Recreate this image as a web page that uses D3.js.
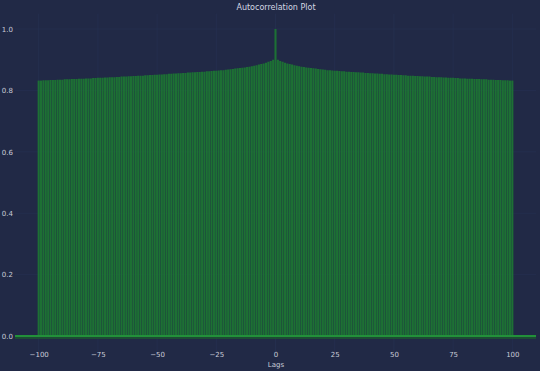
<!DOCTYPE html>
<html>
<head>
<meta charset="utf-8">
<script src="https://cdn.jsdelivr.net/npm/d3@7"></script>
<style>
html,body{margin:0;padding:0;background:#212946;}
svg{display:block;}
</style>
</head>
<body>
<svg id="chart" width="540" height="371"></svg>
<script>
// Autocorrelation values for lags 0..100 (symmetric for negative lags)
const acfPositive = [
  1.000,
  0.900,0.896,0.893,0.890,0.888,0.886,0.884,0.882,0.880,0.879,
  0.877,0.876,0.875,0.874,0.873,0.872,0.871,0.870,0.869,0.868,
  0.867,0.866,0.866,0.865,0.864,0.864,0.863,0.862,0.862,0.861,
  0.861,0.860,0.860,0.859,0.859,0.858,0.858,0.857,0.857,0.856,
  0.856,0.855,0.855,0.854,0.854,0.853,0.853,0.852,0.852,0.851,
  0.851,0.850,0.850,0.849,0.849,0.848,0.848,0.848,0.847,0.847,
  0.846,0.846,0.845,0.845,0.845,0.844,0.844,0.843,0.843,0.843,
  0.842,0.842,0.841,0.841,0.841,0.840,0.840,0.839,0.839,0.839,
  0.838,0.838,0.838,0.837,0.837,0.837,0.836,0.836,0.836,0.835,
  0.835,0.835,0.834,0.834,0.834,0.833,0.833,0.833,0.832,0.832
];
const xTicks = [-100,-75,-50,-25,0,25,50,75,100];
const yTicks = [0.0,0.2,0.4,0.6,0.8,1.0];
const title = "Autocorrelation Plot";
const xLabel = "Lags";

// Build lag/value table
const lags = d3.range(-100, 101);
const acf = lags.map(l => ({lag: l, value: acfPositive[Math.abs(l)]}));

const svg = d3.select("#chart");
const x = d3.scaleLinear().domain([-110, 110]).range([15, 536]);
const y = d3.scaleLinear().domain([-0.05, 1.05]).range([351.35, 13.65]);

const font = "DejaVu Sans, sans-serif";

// grid (very faint)
const grid = svg.append("g");
grid.selectAll(".vg").data(xTicks).enter().append("line")
  .attr("x1", d => x(d)).attr("x2", d => x(d))
  .attr("y1", y(1.05)).attr("y2", y(-0.05))
  .attr("stroke", "#2A3459").attr("stroke-width", 0.7).attr("stroke-opacity", 0.6);
grid.selectAll(".hg").data(yTicks).enter().append("line")
  .attr("x1", x(-110)).attr("x2", x(110))
  .attr("y1", d => y(d)).attr("y2", d => y(d))
  .attr("stroke", "#2A3459").attr("stroke-width", 0.7).attr("stroke-opacity", 0.6);

// bars (vlines)
svg.append("g").selectAll("line").data(acf).enter().append("line")
  .attr("x1", d => x(d.lag)).attr("x2", d => x(d.lag))
  .attr("y1", y(0)).attr("y2", d => y(d.value))
  .attr("stroke", "#1d7a32").attr("stroke-width", 2.1)
  .attr("stroke-opacity", 0.88);

// zero line glow + line
svg.append("line")
  .attr("x1", x(-110)).attr("x2", x(110))
  .attr("y1", y(0) + 1.5).attr("y2", y(0) + 1.5)
  .attr("stroke", "#1b5a2c").attr("stroke-width", 3).attr("stroke-opacity", 0.7);
svg.append("line")
  .attr("x1", x(-110)).attr("x2", x(110))
  .attr("y1", y(0)).attr("y2", y(0))
  .attr("stroke", "#22903a").attr("stroke-width", 1.8);

// axes
const xAxis = svg.append("g")
  .attr("transform", `translate(0,352)`)
  .call(d3.axisBottom(x).tickValues(xTicks).tickSize(0).tickPadding(0)
        .tickFormat(d => d < 0 ? "\u2212" + Math.abs(d) : d));
xAxis.select(".domain").remove();
xAxis.selectAll("text").attr("fill", "#c9ccd8").style("font-size", "7px")
  .style("font-family", font);

const yAxis = svg.append("g")
  .attr("transform", `translate(14,0)`)
  .call(d3.axisLeft(y).tickValues(yTicks).tickSize(0).tickPadding(1)
        .tickFormat(d3.format(".1f")));
yAxis.select(".domain").remove();
yAxis.selectAll("text").attr("fill", "#c9ccd8").style("font-size", "7px")
  .style("font-family", font);

svg.append("text").attr("x", 276).attr("y", 10).attr("text-anchor", "middle")
  .attr("fill", "#d4d7e3").style("font-size", "8px")
  .style("font-family", font).text(title);

svg.append("text").attr("x", 276).attr("y", 367).attr("text-anchor", "middle")
  .attr("fill", "#c9ccd8").style("font-size", "7px")
  .style("font-family", font).text(xLabel);
</script>
</body>
</html>
